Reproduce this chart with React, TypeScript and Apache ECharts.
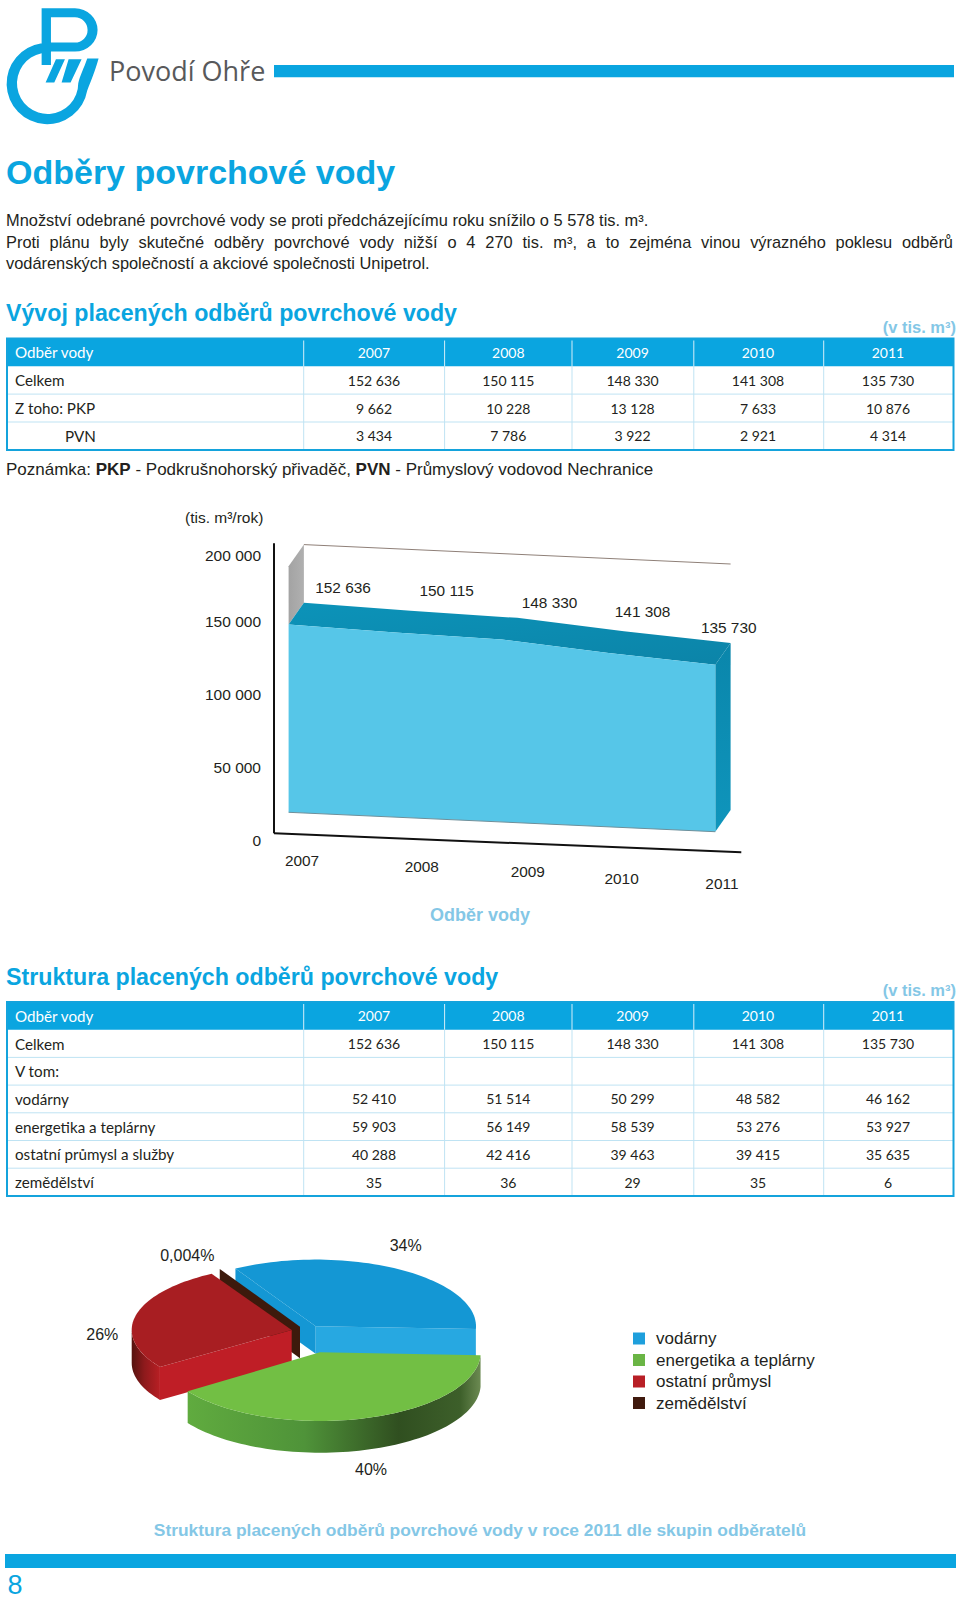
import React, { useEffect, useRef } from "react";
import * as echarts from "echarts";

// ---------- data ----------
const years = ["2007", "2008", "2009", "2010", "2011"];
const celkem = [152636, 150115, 148330, 141308, 135730];
const pkp = [9662, 10228, 13128, 7633, 10876];
const pvn = [3434, 7786, 3922, 2921, 4314];
const vodarny = [52410, 51514, 50299, 48582, 46162];
const energetika = [59903, 56149, 58539, 53276, 53927];
const ostatni = [40288, 42416, 39463, 39415, 35635];
const zemedelstvi = [35, 36, 29, 35, 6];
const pieNames = ["vodárny", "zemědělství", "ostatní průmysl", "energetika a teplárny"];
const pieValues = [vodarny[4], zemedelstvi[4], ostatni[4], energetika[4]];
const pieLabels = ["34%", "0,004%", "26%", "40%"];
const legendOrder = ["vodárny", "energetika a teplárny", "ostatní průmysl", "zemědělství"];

// ---------- style / layout ----------
const BLUE = "#0aa5e0";
const LIGHT = "#84c7e6";
const SANS = "'Liberation Sans', Arial, sans-serif";
const TABLE_FONT = "Lato, 'Open Sans', sans-serif";
const INK = "#231f20";

const AREA = { left: 288.6, top: 566.3, width: 426.7, height: 246 };
const SHEAR = 0.0455;
const DEPTH = { dx: 15.3, dy: -21.7 };
const VALUE_NUDGE: number[][] = [[54.4, -36.6], [51.4, -41.6], [47.6, -37], [34, -41.4], [13.4, -37.7]];
const YEAR_NUDGE: number[][] = [[13.4, 47.7], [26.5, 49.5], [25.8, 49.7], [13, 51.4], [6.6, 51.6]];

const PIE_LAYOUT = [
  { cx: 315.7, cy: 1326.3, rx: 160.3, ry: 66.7, depth: 27.5, lx: 405.7, ly: 1245.7 },
  { cx: 300, cy: 1326.7, rx: 160.3, ry: 66.7, depth: 31.5, lx: 187.3, ly: 1255 },
  { cx: 291.7, cy: 1330, rx: 160, ry: 65, depth: 33, lx: 102.3, ly: 1334.3 },
  { cx: 320, cy: 1352.3, rx: 160.7, ry: 68.7, depth: 31.7, lx: 371, ly: 1469.3 },
];
const PIE_START_DEG = -2.4;

const LOGO_D =
  "M125,25 H225 A68,65 0 0 1 225,155 H153 V195 H125 Z M153,52 V128 H225 A38,38 0 0 0 225,52 Z " +
  "M125,130 A122,122 0 1 0 262,272 C275,240 285,215 296,176 L262,176 C252,205 240,228 235,250 A92,92 0 1 1 125,160 Z " +
  "M168,178 L195,178 L163,248 L137,248 Z M206,178 L245,178 L212,248 L185,248 Z";
echarts.graphic.registerShape("povodiLogo", echarts.graphic.extendPath(LOGO_D, {}));

const fmt = (n: number) => String(n).replace(/\B(?=(\d{3})+$)/g, " ");

function txt(text: string, x: number, y: number, font: string, fill: string, align = "left") {
  return {
    type: "text",
    style: { text, x, y, font, fill, textAlign: align, textVerticalAlign: "middle", align, verticalAlign: "middle" },
    silent: true,
  };
}

function justified(line: string, x0: number, x1: number, y: number, font: string, fill: string) {
  const ctx = document.createElement("canvas").getContext("2d") as CanvasRenderingContext2D;
  ctx.font = font;
  const words = line.split(" ");
  const widths = words.map((w) => ctx.measureText(w).width);
  const gap = (x1 - x0 - widths.reduce((a, b) => a + b, 0)) / (words.length - 1);
  let x = x0;
  return words.map((w, i) => {
    const el = txt(w, x, y, font, fill);
    x += widths[i] + gap;
    return el;
  });
}

const COLS = [7, 303.7, 444.6, 572, 693.8, 823.7, 953.5];
const COL_CENTERS = [374, 508.3, 632.6, 758, 888];

function table(top: number, rowH: number, head: string, rows: { label: string; indent?: number; values: (number | null)[] }[]) {
  const headH = 27.7;
  const bottom = top + headH + rows.length * rowH;
  const els: any[] = [];
  const numFont = `14px ${TABLE_FONT}`;
  const lblFont = `15.2px ${TABLE_FONT}`;
  els.push({ type: "rect", shape: { x: COLS[0], y: top, width: COLS[6] - COLS[0], height: headH }, style: { fill: BLUE } });
  rows.forEach((_, i) => {
    if (i > 0) {
      const y = top + headH + i * rowH;
      els.push({ type: "line", shape: { x1: COLS[0], y1: y, x2: COLS[6], y2: y }, style: { stroke: "#bfe3f3", lineWidth: 1 } });
    }
  });
  COLS.slice(1, 6).forEach((x) => {
    els.push({ type: "line", shape: { x1: x, y1: top + 2, x2: x, y2: top + headH }, style: { stroke: "#d5eef9", lineWidth: 1 } });
    els.push({ type: "line", shape: { x1: x, y1: top + headH, x2: x, y2: bottom }, style: { stroke: "#bfe3f3", lineWidth: 1 } });
  });
  els.push({
    type: "rect",
    shape: { x: COLS[0], y: top, width: COLS[6] - COLS[0], height: bottom - top },
    style: { fill: "none", stroke: "#14a3dc", lineWidth: 2 },
  });
  els.push(txt(head, 15, top + headH / 2, lblFont, "#ffffff"));
  years.forEach((yr, i) => els.push(txt(yr, COL_CENTERS[i], top + headH / 2, numFont, "#ffffff", "center")));
  rows.forEach((r, ri) => {
    const y = top + headH + (ri + 0.5) * rowH;
    els.push(txt(r.label, r.indent ?? 15, y, lblFont, INK));
    r.values.forEach((v, i) => {
      if (v !== null) els.push(txt(fmt(v), COL_CENTERS[i], y, numFont, INK, "center"));
    });
  });
  return els;
}

function ellipsePoints(L: any, a0: number, a1: number, drop = 0) {
  const pts: number[][] = [];
  const steps = Math.max(2, Math.ceil(Math.abs(a1 - a0) / 2));
  for (let k = 0; k <= steps; k++) {
    const t = ((a0 + ((a1 - a0) * k) / steps) * Math.PI) / 180;
    pts.push([L.cx + L.rx * Math.cos(t), L.cy - L.ry * Math.sin(t) + drop]);
  }
  return pts;
}
function tip(L: any, a: number) {
  const t = (a * Math.PI) / 180;
  return [L.cx + L.rx * Math.cos(t), L.cy - L.ry * Math.sin(t)];
}

const grad = (stops: [number, string][]) => ({
  type: "linear",
  x: 0,
  y: 0,
  x2: 1,
  y2: 0,
  colorStops: stops.map(([offset, color]) => ({ offset, color })),
});

function pieSeries() {
  const total = pieValues.reduce((a, b) => a + b, 0);
  let acc = PIE_START_DEG;
  const legendColor = ["#1e9fdc", "#401a0e", "#b81f26", "#6ab545"];
  return pieValues.map((v, idx) => {
    const a0 = acc;
    const a1 = acc + (v / total) * 360;
    acc = a1;
    const L = PIE_LAYOUT[idx];
    return {
      type: "custom",
      name: pieNames[idx],
      coordinateSystem: "none",
      z: 3 + idx,
      silent: true,
      itemStyle: { color: legendColor[idx] },
      data: [v],
      renderItem: () => {
        const apex = [L.cx, L.cy];
        const apexD = [L.cx, L.cy + L.depth];
        const poly = (points: number[][], fill: any) => ({ type: "polygon", shape: { points }, style: { fill } });
        const cut = (a: number, fill: any) => {
          const p = tip(L, a);
          return poly([apex, p, [p[0], p[1] + L.depth], apexD], fill);
        };
        const top = [apex, ...ellipsePoints(L, a0, a1)];
        const outerWall = (from: number, to: number, fill: any) => {
          const upper = ellipsePoints(L, from, to);
          const lower = ellipsePoints(L, to, from, L.depth);
          return poly([...upper, ...lower], fill);
        };
        const children: any[] = [];
        if (idx === 0) {
          children.push(cut(a1, "#1497d4"));
          children.push(cut(a0, "#27a8e1"));
          children.push(poly(top, "#1497d4"));
        } else if (idx === 1) {
          children.push(cut(a0, "#3d1a0c"));
        } else if (idx === 2) {
          children.push(
            outerWall(180, a1, grad([[0, "#55130f"], [0.45, "#8e1a1c"], [1, "#b81f24"]]))
          );
          children.push(cut(a1, "#bf1e26"));
          children.push(poly(top, "#a81e22"));
        } else {
          children.push(
            outerWall(
              a0,
              a1,
              grad([[0, "#60ab3f"], [0.4, "#4f9339"], [0.72, "#304f20"], [0.93, "#3d5f2a"], [1, "#6c8a52"]])
            )
          );
          children.push(poly(top, "#72bf44"));
        }
        children.push({
          type: "text",
          style: {
            text: pieLabels[idx],
            x: L.lx,
            y: L.ly,
            font: `16px ${SANS}`,
            fill: INK,
            textAlign: "center",
            textVerticalAlign: "middle",
            align: "center",
            verticalAlign: "middle",
          },
        });
        return { type: "group", children };
      },
    };
  });
}

function areaRender(params: any, api: any) {
  const i = params.dataIndex;
  const x0 = api.coord([0, 0])[0];
  const P = (k: number, v: number) => {
    const c = api.coord([k, v]);
    return [c[0], c[1] + SHEAR * (c[0] - x0)];
  };
  const back = (p: number[]) => [p[0] + DEPTH.dx, p[1] + DEPTH.dy];
  const n = years.length;
  const children: any[] = [];
  const lineStyle = (stroke: string, lineWidth: number) => ({ stroke, lineWidth, fill: "none" });
  if (i === 0) {
    const fronts = celkem.map((v, k) => P(k, v));
    const bases = celkem.map((_, k) => P(k, 0));
    const backs = fronts.map(back);
    const ceil0 = P(0, 200000);
    const ceilN = P(n - 1, 200000);
    const baseL = bases[0];
    const baseR = bases[n - 1];
    // axis lines
    children.push({
      type: "line",
      shape: { x1: baseL[0] - 14.6, y1: ceil0[1] - 23, x2: baseL[0] - 14.6, y2: baseL[1] + 21 },
      style: lineStyle("#111111", 2),
    });
    children.push({
      type: "line",
      shape: { x1: baseL[0] - 14.6, y1: baseL[1] + 21, x2: baseR[0] + 26, y2: baseR[1] + 20.6 },
      style: lineStyle("#111111", 2),
    });
    // back wall
    children.push({
      type: "line",
      shape: { x1: back(ceil0)[0], y1: back(ceil0)[1], x2: back(ceilN)[0], y2: back(ceilN)[1] },
      style: lineStyle("#8f8078", 1),
    });
    children.push({
      type: "polygon",
      shape: { points: [ceil0, back(ceil0), backs[0], fronts[0]] },
      style: { fill: { type: "linear", x: 0, y: 0, x2: 1, y2: 0, colorStops: [{ offset: 0, color: "#a3a3a3" }, { offset: 1, color: "#b0b0b0" }] } },
    });
    // top surface
    children.push({
      type: "polygon",
      shape: { points: [...fronts, ...backs.slice().reverse()] },
      style: { fill: { type: "linear", x: 0, y: 0, x2: 1, y2: 1, colorStops: [{ offset: 0, color: "#0c93b9" }, { offset: 1, color: "#0c84a8" }] } },
    });
    // right side
    children.push({
      type: "polygon",
      shape: { points: [fronts[n - 1], backs[n - 1], back(baseR), baseR] },
      style: { fill: { type: "linear", x: 0, y: 0, x2: 0, y2: 1, colorStops: [{ offset: 0, color: "#0a86ab" }, { offset: 1, color: "#0f95bc" }] } },
    });
    // front
    children.push({
      type: "polygon",
      shape: { points: [...fronts, baseR, baseL] },
      style: { fill: "#56c6e8" },
    });
    children.push({
      type: "line",
      shape: { x1: baseL[0], y1: baseL[1], x2: baseR[0], y2: baseR[1] },
      style: lineStyle("#6e8f9a", 1),
    });
  }
  const top = P(i, celkem[i]);
  const base = P(i, 0);
  const label = (text: string, x: number, y: number) => ({
    type: "text",
    style: {
      text,
      x,
      y,
      font: `15.4px ${SANS}`,
      fill: INK,
      textAlign: "center",
      textVerticalAlign: "middle",
      align: "center",
      verticalAlign: "middle",
    },
  });
  children.push(label(fmt(celkem[i]), top[0] + VALUE_NUDGE[i][0], top[1] + VALUE_NUDGE[i][1]));
  children.push(label(years[i], base[0] + YEAR_NUDGE[i][0], base[1] + YEAR_NUDGE[i][1]));
  return { type: "group", children };
}

export default function App() {
  const ref = useRef<HTMLDivElement>(null);
  useEffect(() => {
    const chart = echarts.init(ref.current as HTMLDivElement, undefined, { renderer: "svg" });
    const bodyFont = `16.4px ${SANS}`;
    const h2 = `bold 23.2px ${SANS}`;
    const graphic: any[] = [
      { type: "povodiLogo", x: 0, y: 0, scaleX: 1 / 3, scaleY: 1 / 3, style: { fill: BLUE } },
      txt("Povodí Ohře", 109, 70, `27px 'Open Sans', sans-serif`, "#58595b"),
      { type: "rect", shape: { x: 274, y: 65, width: 680, height: 12.3 }, style: { fill: BLUE } },
      txt("Odběry povrchové vody", 6, 172, `bold 34px ${SANS}`, BLUE),
      txt("Množství odebrané povrchové vody se proti předcházejícímu roku snížilo o 5 578 tis. m³.", 6, 220, bodyFont, INK),
      ...justified(
        "Proti plánu byly skutečné odběry povrchové vody nižší o 4 270 tis. m³, a to zejména vinou výrazného poklesu odběrů",
        6,
        953,
        241.5,
        bodyFont,
        INK
      ),
      txt("vodárenských společností a akciové společnosti Unipetrol.", 6, 263, bodyFont, INK),
      txt("Vývoj placených odběrů povrchové vody", 6, 313, h2, BLUE),
      txt("(v tis. m³)", 956, 327, `bold 16.5px ${SANS}`, LIGHT, "right"),
      ...table(338.5, 27.9, "Odběr vody", [
        { label: "Celkem", values: celkem },
        { label: "Z toho: PKP", values: pkp },
        { label: "PVN", indent: 65, values: pvn },
      ]),
      {
        type: "text",
        style: {
          x: 6,
          y: 469,
          text:
            "{n|Poznámka: }{b|PKP}{n| - Podkrušnohorský přivaděč, }{b|PVN}{n| - Průmyslový vodovod Nechranice}",
          textVerticalAlign: "middle",
          verticalAlign: "middle",
          rich: {
            n: { font: `17px ${SANS}`, fill: INK, fontSize: 17, fontFamily: SANS },
            b: { font: `bold 17px ${SANS}`, fill: INK, fontWeight: "bold", fontSize: 17, fontFamily: SANS },
          },
        },
      },
      txt("(tis. m³/rok)", 185, 517, `15.5px ${SANS}`, INK),
      txt("Odběr vody", 480, 915, `bold 18px ${SANS}`, LIGHT, "center"),
      txt("Struktura placených odběrů povrchové vody", 6, 977, h2, BLUE),
      txt("(v tis. m³)", 956, 990, `bold 16.5px ${SANS}`, LIGHT, "right"),
      ...table(1002, 27.7, "Odběr vody", [
        { label: "Celkem", values: celkem },
        { label: "V tom:", values: [null, null, null, null, null] },
        { label: "vodárny", values: vodarny },
        { label: "energetika a teplárny", values: energetika },
        { label: "ostatní průmysl a služby", values: ostatni },
        { label: "zemědělství", values: zemedelstvi },
      ]),
      txt(
        "Struktura placených odběrů povrchové vody v roce 2011 dle skupin odběratelů",
        480,
        1530,
        `bold 17.4px ${SANS}`,
        LIGHT,
        "center"
      ),
      { type: "rect", shape: { x: 5, y: 1554, width: 951, height: 14 }, style: { fill: BLUE } },
      txt("8", 15, 1585, `27px ${SANS}`, BLUE, "center"),
    ];
    chart.setOption({
      animation: false,
      backgroundColor: "#ffffff",
      grid: [
        { left: AREA.left, top: AREA.top, width: AREA.width, height: AREA.height },
        { left: 261, top: 547.8, width: 100, height: 293 },
      ],
      xAxis: [
        { gridIndex: 0, type: "category", data: years, boundaryGap: false, show: false },
        { gridIndex: 1, type: "value", show: false },
      ],
      yAxis: [
        { gridIndex: 0, type: "value", min: 0, max: 200000, interval: 50000, show: false },
        {
          gridIndex: 1,
          type: "value",
          min: 0,
          max: 200000,
          interval: 50000,
          axisLine: { show: false },
          axisTick: { show: false },
          splitLine: { show: false },
          axisLabel: {
            margin: 0,
            formatter: (v: number) => (v === 200000 ? `{t|${fmt(v)}}` : fmt(v)),
            fontFamily: SANS,
            fontSize: 15.5,
            color: INK,
            rich: {
              t: { fontFamily: SANS, fontSize: 15.5, color: INK, padding: [16, 0, 0, 0] },
            },
          },
        },
      ],
      legend: {
        show: true,
        orient: "vertical",
        left: 628,
        top: 1325,
        itemWidth: 12,
        itemHeight: 12,
        itemGap: 4.5,
        selectedMode: false,
        icon: "rect",
        textStyle: { fontFamily: SANS, fontSize: 17, color: INK, padding: [0, 0, 0, 6] },
        data: legendOrder,
      },
      graphic: { elements: graphic },
      series: [
        {
          type: "custom",
          name: "Odběr vody",
          xAxisIndex: 0,
          yAxisIndex: 0,
          clip: false,
          silent: true,
          z: 2,
          encode: { x: 0, y: 1 },
          data: celkem.map((v, i) => [i, v]),
          renderItem: areaRender,
        },
        ...pieSeries(),
      ],
    });
    return () => chart.dispose();
  }, []);
  return <div ref={ref} style={{ position: "absolute", left: 0, top: 0, width: 960, height: 1602 }} />;
}
